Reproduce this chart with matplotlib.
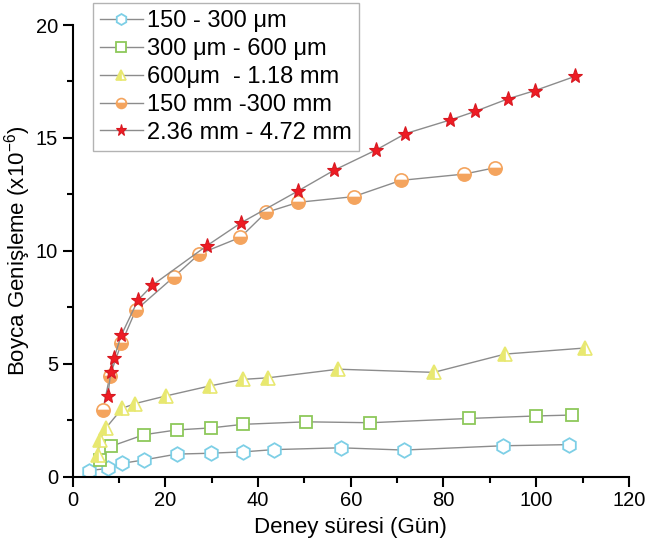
import matplotlib
matplotlib.use("Agg")
import matplotlib.pyplot as plt
from matplotlib.ticker import MultipleLocator

plt.rcParams["font.family"] = ["Liberation Sans", "DejaVu Sans"]
plt.rcParams["mathtext.default"] = "regular"

# 150 - 300 um
x1 = [3.5, 7.7, 10.6, 15.3, 22.4, 29.8, 36.8, 43.4, 57.8, 71.4, 92.8, 107.0]
y1 = [0.27, 0.37, 0.59, 0.74, 1.0, 1.04, 1.1, 1.2, 1.28, 1.18, 1.37, 1.42]

# 300 um - 600 um
x2 = [5.9, 8.2, 15.4, 22.4, 29.8, 36.8, 50.4, 64.2, 85.6, 100.0, 107.7]
y2 = [0.72, 1.34, 1.86, 2.07, 2.16, 2.32, 2.43, 2.39, 2.58, 2.69, 2.73]

# 600um - 1.18 mm
x3 = [5.4, 5.9, 7.1, 10.7, 13.5, 20.2, 29.6, 36.8, 42.2, 57.3, 77.9, 93.3, 110.6]
y3 = [0.96, 1.64, 2.14, 3.03, 3.24, 3.58, 4.02, 4.31, 4.38, 4.76, 4.62, 5.43, 5.7]

# 150 mm - 300 mm
x4 = [6.5, 8.0, 10.5, 13.6, 21.9, 27.3, 36.2, 41.7, 48.7, 60.6, 70.8, 84.5, 91.1]
y4 = [2.94, 4.45, 5.9, 7.37, 8.86, 9.86, 10.6, 11.7, 12.15, 12.4, 13.12, 13.4, 13.68]

# 2.36 mm - 4.72 mm
x5 = [7.6, 8.2, 8.9, 10.5, 14.1, 17.2, 28.9, 36.3, 48.6, 56.4, 65.4, 71.8, 81.5, 86.9, 93.9, 99.8, 108.3]
y5 = [3.56, 4.65, 5.24, 6.27, 7.82, 8.48, 10.22, 11.24, 12.65, 13.57, 14.46, 15.19, 15.8, 16.18, 16.73, 17.1, 17.72]

labels = ["150 - 300 μm", "300 μm - 600 μm", "600μm  - 1.18 mm",
          "150 mm -300 mm", "2.36 mm - 4.72 mm"]

line_col = "#8c8c8c"

fig = plt.figure(figsize=(6.46, 5.52), dpi=100)
ax = fig.add_axes([0.1125, 0.1364, 0.861, 0.8183])

ax.plot(x1, y1, color=line_col, lw=1, marker="h", ms=10.5, mfc="white",
        mec="#7dcfe6", mew=1.3, label=labels[0])
ax.plot(x2, y2, color=line_col, lw=1, marker="s", ms=9, mfc="white",
        mec="#8dc85a", mew=1.3, label=labels[1])
ax.plot(x3, y3, color=line_col, lw=1, marker="^", ms=10.5, mfc="#e8e870",
        mec="#e8e870", fillstyle="left", markerfacecoloralt="white",
        mew=1.2, label=labels[2])
ax.plot(x4, y4, color=line_col, lw=1, marker="o", ms=9.5, mfc="#f4a45e",
        mec="#f4a45e", fillstyle="bottom", markerfacecoloralt="white",
        mew=1.2, label=labels[3])
ax.plot(x5, y5, color=line_col, lw=1, marker="*", ms=11, mfc="#ee1c24",
        mec="#d81820", mew=0.8, label=labels[4])

ax.set_xlim(0, 120)
ax.set_ylim(0, 20)
ax.xaxis.set_major_locator(MultipleLocator(20))
ax.xaxis.set_minor_locator(MultipleLocator(10))
ax.yaxis.set_major_locator(MultipleLocator(5))
ax.yaxis.set_minor_locator(MultipleLocator(2.5))

for s in ["top", "right"]:
    ax.spines[s].set_visible(False)
for s in ["left", "bottom"]:
    ax.spines[s].set_linewidth(1.5)
ax.tick_params(which="major", direction="out", length=7, width=1.5, labelsize=14.5)
ax.tick_params(which="minor", direction="out", length=4, width=1.5)

ax.set_xlabel("Deney süresi (Gün)", fontsize=16, labelpad=5)
ax.set_ylabel("Boyca Genişleme (x10$^{-6}$)", fontsize=16, labelpad=2)

leg = ax.legend(loc="upper left", bbox_to_anchor=(93 / 646, 1 - 3 / 552),
                bbox_transform=fig.transFigure, borderaxespad=0,
                fontsize=17, frameon=True, fancybox=False,
                edgecolor="#a0a0a0", handlelength=1.8, handletextpad=0.2,
                labelspacing=0.25, borderpad=0.3, markerscale=0.75)
leg.get_frame().set_linewidth(1.0)

fig.savefig("out.png", dpi=100)
